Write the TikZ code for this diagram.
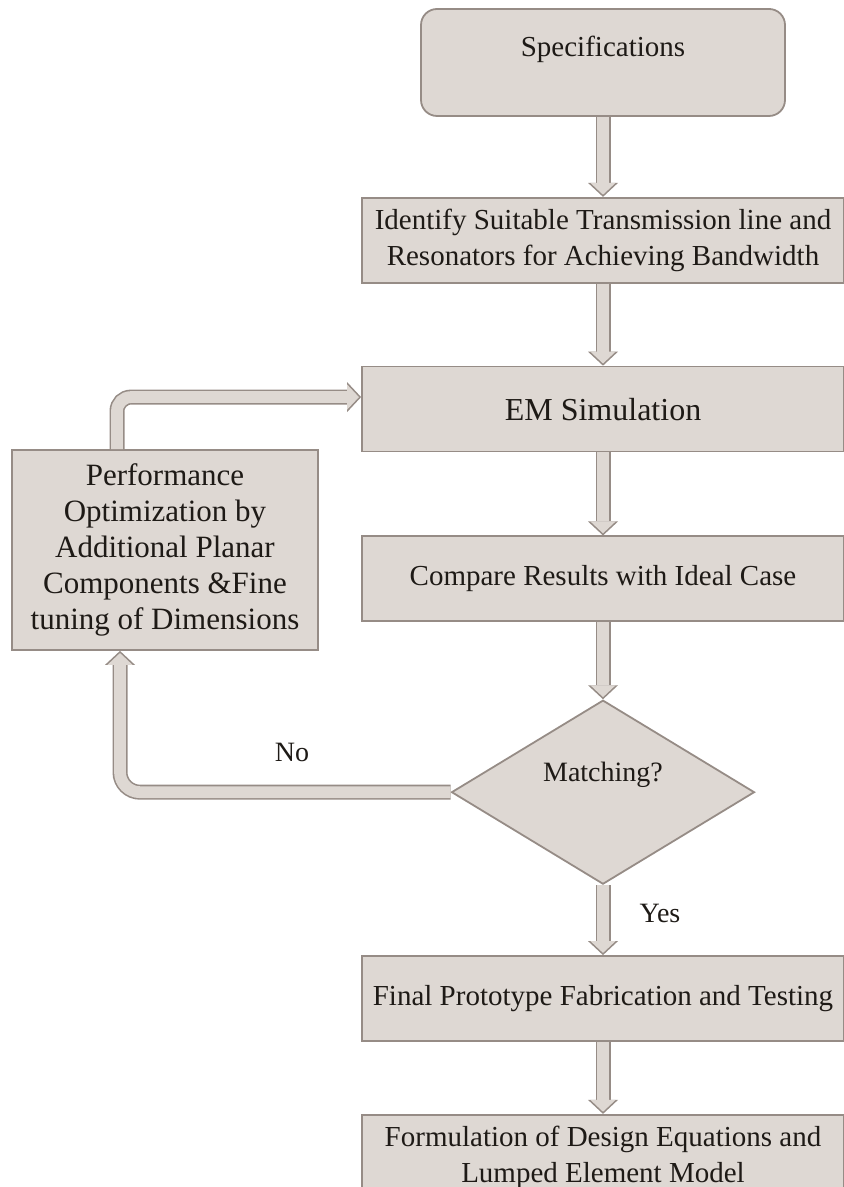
\documentclass[tikz,border=0pt]{standalone}
\usepackage{fontspec}
\setmainfont{Liberation Serif}
\usetikzlibrary{arrows.meta,positioning,shapes.geometric,calc}
\definecolor{boxfill}{RGB}{222,216,211}
\definecolor{boxedge}{RGB}{150,140,134}
\definecolor{inkc}{RGB}{30,26,22}

\begin{document}
\begin{tikzpicture}[x=0.5pt, y=0.5pt,
  box/.style={draw=boxedge, line width=0.9pt, fill=boxfill, minimum width=241pt,
              minimum height=42.5pt, align=center, text=inkc,
              font=\fontsize{14.5}{18}\selectfont, inner sep=1pt},
  spec/.style={box, rounded corners=8pt, minimum width=182pt, minimum height=0pt,
               text height=24pt, text depth=29.5pt, inner ysep=0pt},
  decide/.style={box, diamond, minimum width=151.5pt, minimum height=92pt,
                 font=\fontsize{14}{16}\selectfont, inner sep=0pt,
                 text height=10pt, text depth=21pt},
  flow/.style={draw=boxfill, line width=5.9pt,
               -{Triangle[length=5.9pt, width=12.6pt, line width=0pt]}, shorten >=1.1pt,
               preaction={draw=boxedge, line width=7.5pt,
                          -{Triangle[length=7pt, width=15pt, line width=0pt]}, shorten >=0pt}},
  tag/.style={text=inkc, font=\fontsize{14}{16}\selectfont}]
  \useasboundingbox (0,0) rectangle (843,1187);

  \node[spec] (spec) at (603,1124.5) {Specifications};
  \node[box, below=40pt of spec] (ident) {Identify Suitable Transmission line and\\ Resonators for Achieving Bandwidth};
  \node[box, below=41pt of ident, font=\fontsize{16}{18}\selectfont] (emsim) {EM Simulation};
  \node[box, below=41.5pt of emsim] (compare) {Compare Results with Ideal Case};
  \node[decide, below=38.5pt of compare] (match) {Matching?};
  \node[box, below=35pt of match] (final) {Final Prototype Fabrication and Testing};
  \node[box, below=36pt of final] (formul) {Formulation of Design Equations and\\ Lumped Element Model};
  \node[box, minimum width=153pt, minimum height=100pt, font=\fontsize{15.5}{18}\selectfont] (perf) at (165,637)
       {Performance\\ Optimization by\\ Additional Planar\\ Components \&Fine\\ tuning of Dimensions};

  \draw[flow] (spec) -- (ident);
  \draw[flow] (ident) -- (emsim);
  \draw[flow] (emsim) -- (compare);
  \draw[flow] (compare) -- (match);
  \draw[flow] (match) -- (final);
  \draw[flow] (final) -- (formul);

  % loop back through the optimisation step
  \coordinate (upbend) at (117,793);
  \coordinate (backbend) at (120,398);
  \draw[flow, rounded corners=7pt] (perf.north -| upbend) |- ($(emsim.west)+(0,12)$);
  \draw[flow, rounded corners=10pt] (match.west) -| (perf.south -| backbend);

  \node[tag] (nolbl) at (292,435) {No};
  \node[tag] (yeslbl) at (660,274) {Yes};
\end{tikzpicture}
\end{document}
